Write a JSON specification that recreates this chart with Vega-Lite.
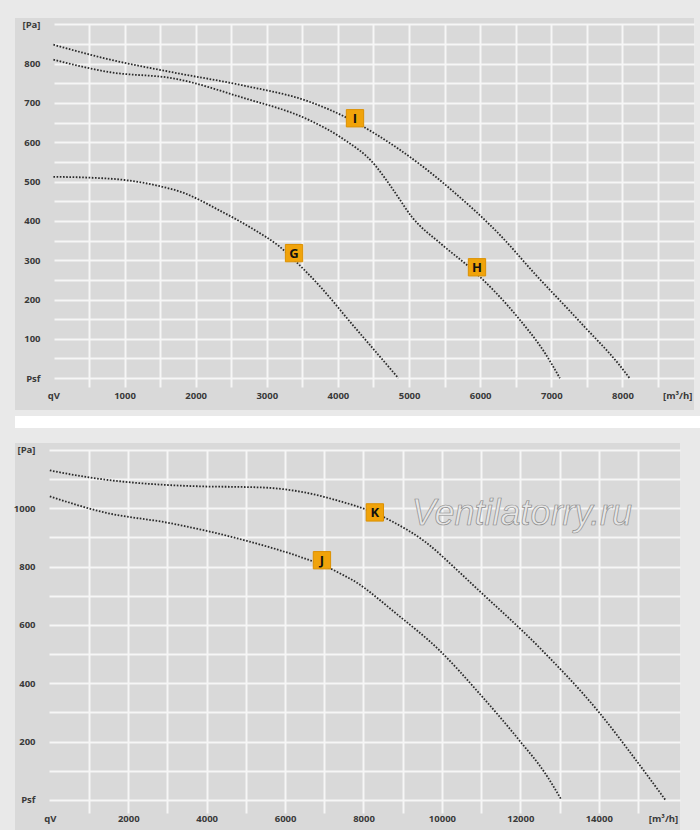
{
  "$schema": "https://vega.github.io/schema/vega-lite/v6.json",
  "background": "#e9e9e9",
  "padding": {"left": 13, "top": 18, "right": 0, "bottom": 0},
  "config": {"view": {"stroke": null}, "font": "Open Sans"},
  "datasets": {
    "topCurves": [
      {"curve": "I", "q": 0, "p": 848}, {"curve": "I", "q": 800, "p": 810}, {"curve": "I", "q": 1700, "p": 777},
      {"curve": "I", "q": 2650, "p": 745}, {"curve": "I", "q": 3600, "p": 703}, {"curve": "I", "q": 4150, "p": 660},
      {"curve": "I", "q": 4520, "p": 622}, {"curve": "I", "q": 5180, "p": 540}, {"curve": "I", "q": 5600, "p": 478},
      {"curve": "I", "q": 6300, "p": 360}, {"curve": "I", "q": 6770, "p": 265}, {"curve": "I", "q": 7290, "p": 165},
      {"curve": "I", "q": 7470, "p": 130}, {"curve": "I", "q": 7950, "p": 35}, {"curve": "I", "q": 8100, "p": 0},
      {"curve": "H", "q": 0, "p": 810}, {"curve": "H", "q": 800, "p": 778}, {"curve": "H", "q": 1700, "p": 762},
      {"curve": "H", "q": 2650, "p": 714}, {"curve": "H", "q": 3600, "p": 656}, {"curve": "H", "q": 4060, "p": 610},
      {"curve": "H", "q": 4520, "p": 542}, {"curve": "H", "q": 4660, "p": 509}, {"curve": "H", "q": 4800, "p": 473},
      {"curve": "H", "q": 5040, "p": 410}, {"curve": "H", "q": 5460, "p": 340}, {"curve": "H", "q": 5900, "p": 274},
      {"curve": "H", "q": 6550, "p": 150}, {"curve": "H", "q": 6910, "p": 64}, {"curve": "H", "q": 7120, "p": 0},
      {"curve": "G", "q": 0, "p": 512}, {"curve": "G", "q": 500, "p": 510}, {"curve": "G", "q": 1000, "p": 504},
      {"curve": "G", "q": 1500, "p": 488}, {"curve": "G", "q": 1850, "p": 470}, {"curve": "G", "q": 2090, "p": 450},
      {"curve": "G", "q": 2320, "p": 428}, {"curve": "G", "q": 2560, "p": 405}, {"curve": "G", "q": 2790, "p": 381},
      {"curve": "G", "q": 2980, "p": 360}, {"curve": "G", "q": 3170, "p": 336}, {"curve": "G", "q": 3400, "p": 298},
      {"curve": "G", "q": 3730, "p": 237}, {"curve": "G", "q": 4200, "p": 137}, {"curve": "G", "q": 4670, "p": 38},
      {"curve": "G", "q": 4850, "p": 0}
    ],
    "topLabels": [
      {"curve": "G", "q": 3383, "p": 318},
      {"curve": "H", "q": 5955, "p": 282},
      {"curve": "I", "q": 4240, "p": 661}
    ],
    "bottomCurves": [
      {"curve": "K", "q": 0, "p": 1130}, {"curve": "K", "q": 1000, "p": 1106}, {"curve": "K", "q": 2230, "p": 1087},
      {"curve": "K", "q": 3000, "p": 1080}, {"curve": "K", "q": 3930, "p": 1075}, {"curve": "K", "q": 5000, "p": 1073},
      {"curve": "K", "q": 5620, "p": 1070}, {"curve": "K", "q": 6480, "p": 1055}, {"curve": "K", "q": 7330, "p": 1027},
      {"curve": "K", "q": 8290, "p": 984}, {"curve": "K", "q": 8730, "p": 955}, {"curve": "K", "q": 9575, "p": 885},
      {"curve": "K", "q": 10390, "p": 788}, {"curve": "K", "q": 10810, "p": 735}, {"curve": "K", "q": 12550, "p": 514},
      {"curve": "K", "q": 14010, "p": 300}, {"curve": "K", "q": 14930, "p": 140}, {"curve": "K", "q": 15700, "p": 0},
      {"curve": "J", "q": 0, "p": 1041}, {"curve": "J", "q": 1390, "p": 986}, {"curve": "J", "q": 3070, "p": 949},
      {"curve": "J", "q": 4780, "p": 897}, {"curve": "J", "q": 6480, "p": 829}, {"curve": "J", "q": 7000, "p": 803},
      {"curve": "J", "q": 7500, "p": 770}, {"curve": "J", "q": 7890, "p": 740}, {"curve": "J", "q": 8170, "p": 712},
      {"curve": "J", "q": 8780, "p": 645}, {"curve": "J", "q": 9930, "p": 514}, {"curve": "J", "q": 10950, "p": 366},
      {"curve": "J", "q": 11970, "p": 205}, {"curve": "J", "q": 12630, "p": 92}, {"curve": "J", "q": 13050, "p": 0}
    ],
    "bottomLabels": [
      {"curve": "J", "q": 6940, "p": 822},
      {"curve": "K", "q": 8290, "p": 986}
    ],
    "watermark": [
      {"text": "Ventilatorry.ru", "q": 12040, "p": 942}
    ]
  },
  "vconcat": [
    {
      "width": 679,
      "height": 392,
      "view": {"fill": "#d9d9d9", "stroke": null},
      "encoding": {
        "x": {
          "field": "q", "type": "quantitative",
          "scale": {"domain": [-540, 9006], "nice": false, "zero": false},
          "axis": {
            "title": null, "grid": false, "domain": false,
            "values": [0, 500, 1000, 1500, 2000, 2500, 3000, 3500, 4000, 4500, 5000, 5500, 6000, 6500, 7000, 7500, 8000, 8500, 8770],
            "format": "d",
            "offset": -386, "tickSize": 363, "tickColor": "#f6f6f6", "tickWidth": 2,
            "tickOpacity": {"condition": {"test": "datum.value == 0 || datum.value == 8770", "value": 0}, "value": 1},
            "labelExpr": "datum.value == 0 ? 'qV' : datum.value == 8770 ? '[m³/h]' : datum.value % 1000 == 0 ? datum.label : ''",
            "labelPadding": 8, "labelBaseline": "middle", "labelFlush": false, "labelOverlap": false, "labelBound": false,
            "labelFont": "Open Sans", "labelFontSize": 9.5, "labelFontWeight": "bold", "labelColor": "#3a3a3a"
          }
        },
        "y": {
          "field": "p", "type": "quantitative",
          "scale": {"domain": [-81, 916], "nice": false, "zero": false},
          "axis": {
            "title": null, "grid": false, "domain": false,
            "values": [0, 50, 100, 150, 200, 250, 300, 350, 400, 450, 500, 550, 600, 650, 700, 750, 800, 850, 900],
            "format": "d",
            "offset": -679, "tickSize": 640, "tickColor": "#f6f6f6", "tickWidth": 2,
            "labelExpr": "datum.value == 900 ? '[Pa]' : datum.value == 0 ? 'Psf' : datum.value % 100 == 0 ? datum.label : ''",
            "labelPadding": 14, "labelBaseline": "middle", "labelFlush": false, "labelOverlap": false, "labelBound": false,
            "labelFont": "Open Sans", "labelFontSize": 9.5, "labelFontWeight": "bold", "labelColor": "#3a3a3a"
          }
        }
      },
      "layer": [
        {
          "data": {"name": "topCurves"},
          "mark": {"type": "line", "color": "#2a2a2a", "strokeWidth": 1.8, "strokeDash": [1.6, 1.6], "interpolate": "monotone"},
          "encoding": {"detail": {"field": "curve"}}
        },
        {
          "data": {"name": "topLabels"},
          "mark": {"type": "square", "size": 300, "color": "#f0a30a", "opacity": 1, "stroke": "#dc9000", "strokeWidth": 1}
        },
        {
          "data": {"name": "topLabels"},
          "mark": {"type": "text", "font": "Open Sans", "fontSize": 13, "fontWeight": "bold", "color": "#111111", "baseline": "middle", "align": "center", "dy": 1},
          "encoding": {"text": {"field": "curve"}}
        }
      ]
    },
    {
      "spacing": 15,
      "vconcat": [
        {
          "width": 687,
          "height": 12,
          "data": {"values": []},
          "mark": {"type": "point", "opacity": 0},
          "encoding": {},
          "view": {"fill": "#ffffff", "stroke": null}
        },
        {
          "width": 665,
          "height": 387,
          "view": {"fill": "#d9d9d9", "stroke": null},
          "encoding": {
            "x": {
              "field": "q", "type": "quantitative",
              "scale": {"domain": [-888, 16072], "nice": false, "zero": false},
              "axis": {
                "title": null, "grid": false, "domain": false,
                "values": [0, 1000, 2000, 3000, 4000, 5000, 6000, 7000, 8000, 9000, 10000, 11000, 12000, 13000, 14000, 15000, 15640],
                "format": "d",
                "offset": -380, "tickSize": 363, "tickColor": "#f6f6f6", "tickWidth": 2,
                "tickOpacity": {"condition": {"test": "datum.value == 0 || datum.value == 15640", "value": 0}, "value": 1},
                "labelExpr": "datum.value == 0 ? 'qV' : datum.value == 15640 ? '[m³/h]' : datum.value % 2000 == 0 ? datum.label : ''",
                "labelPadding": 5, "labelBaseline": "middle", "labelFlush": false, "labelOverlap": false, "labelBound": false,
                "labelFont": "Open Sans", "labelFontSize": 9.5, "labelFontWeight": "bold", "labelColor": "#3a3a3a"
              }
            },
            "y": {
              "field": "p", "type": "quantitative",
              "scale": {"domain": [-103, 1224], "nice": false, "zero": false},
              "axis": {
                "title": null, "grid": false, "domain": false,
                "values": [0, 100, 200, 300, 400, 500, 600, 700, 800, 900, 1000, 1100, 1200],
                "format": "d",
                "offset": -665, "tickSize": 631, "tickColor": "#f6f6f6", "tickWidth": 2,
                "labelExpr": "datum.value == 1200 ? '[Pa]' : datum.value == 0 ? 'Psf' : datum.value % 200 == 0 ? datum.label : ''",
                "labelPadding": 14, "labelBaseline": "middle", "labelFlush": false, "labelOverlap": false, "labelBound": false,
                "labelFont": "Open Sans", "labelFontSize": 9.5, "labelFontWeight": "bold", "labelColor": "#3a3a3a"
              }
            }
          },
          "layer": [
            {
              "data": {"name": "watermark"},
              "mark": {"type": "text", "font": "Liberation Sans", "fontSize": 36, "fontStyle": "italic", "fill": "#e6e6e6", "stroke": "#8c8c8c", "strokeWidth": 0.7, "align": "center", "baseline": "alphabetic"},
              "encoding": {"text": {"field": "text"}}
            },
            {
              "data": {"name": "bottomCurves"},
              "mark": {"type": "line", "color": "#2a2a2a", "strokeWidth": 1.8, "strokeDash": [1.6, 1.6], "interpolate": "monotone"},
              "encoding": {"detail": {"field": "curve"}}
            },
            {
              "data": {"name": "bottomLabels"},
              "mark": {"type": "square", "size": 300, "color": "#f0a30a", "opacity": 1, "stroke": "#dc9000", "strokeWidth": 1}
            },
            {
              "data": {"name": "bottomLabels"},
              "mark": {"type": "text", "font": "Open Sans", "fontSize": 13, "fontWeight": "bold", "color": "#111111", "baseline": "middle", "align": "center", "dy": 1},
              "encoding": {"text": {"field": "curve"}}
            }
          ]
        }
      ]
    }
  ],
  "spacing": 6
}
